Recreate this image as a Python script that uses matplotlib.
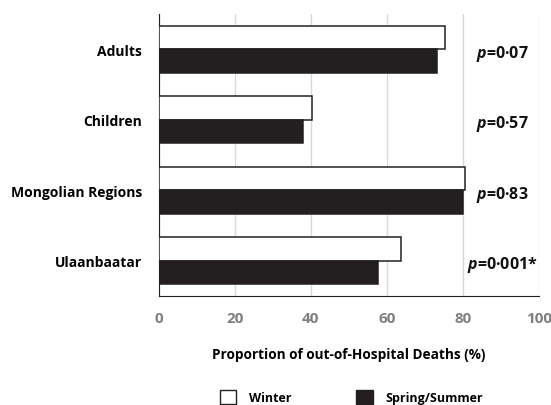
import numpy as np
import matplotlib.pyplot as plt
from matplotlib.patches import Patch

plt.rcParams['font.family'] = ['Open Sans', 'DejaVu Sans']
plt.rcParams['mathtext.fontset'] = 'custom'
plt.rcParams['mathtext.it'] = 'Open Sans:italic:bold'
plt.rcParams['mathtext.rm'] = 'Open Sans:bold'

categories = ['Adults', 'Children', 'Mongolian Regions', 'Ulaanbaatar']
winter = [75.3, 40.3, 80.6, 63.8]
spring_summer = [73.3, 37.9, 80.1, 57.7]
p_labels = ['0·07', '0·57', '0·83', '0·001*']

fig = plt.figure(figsize=(5.51, 4.06), dpi=100)
ax = fig.add_axes([0.288, 0.2685, 0.69, 0.6945])

y = np.arange(len(categories))
h = 1 / 3
ax.barh(y - h / 2, winter, height=h, color='white', edgecolor='#222222', lw=1.1, zorder=3)
ax.barh(y + h / 2, spring_summer, height=h, color='#231f20', edgecolor='#231f20', lw=1.1, zorder=3)

for i, p in enumerate(p_labels):
    ax.text(90.3, y[i] + 0.05, r'$p$' + '=' + p, ha='center', va='center',
            fontsize=11.5, fontweight='bold', color='#111111')

ax.set_xlim(0, 100)
ax.set_ylim(3.5, -0.5)
ax.set_xticks(np.arange(0, 101, 20))
ax.set_yticks(y)
ax.set_yticklabels(categories, fontsize=10, fontweight='bold')
ax.tick_params(axis='x', labelsize=11, colors='#808080', length=0, pad=11)
ax.tick_params(axis='y', length=0, pad=12)
for lab in ax.get_xticklabels():
    lab.set_fontweight('bold')
ax.xaxis.grid(True, color='#d9d9d9', lw=1, zorder=0)
ax.spines['top'].set_visible(False)
ax.spines['right'].set_visible(False)
ax.spines['left'].set_color('#222222')
ax.spines['bottom'].set_color('#222222')

ax.set_xlabel('Proportion of out-of-Hospital Deaths (%)', fontsize=9.8, fontweight='bold', labelpad=16)

handles = [Patch(facecolor='white', edgecolor='#222222', lw=1, label='Winter'),
           Patch(facecolor='#231f20', edgecolor='#231f20', label='Spring/Summer')]
fig.legend(handles=handles, loc='center', bbox_to_anchor=(0.638, 0.02), ncol=2, frameon=False,
           prop={'weight': 'bold', 'size': 9}, handlelength=1.3, handleheight=1.3,
           columnspacing=5.2, handletextpad=1.0)

fig.savefig('out.png', dpi=100)
